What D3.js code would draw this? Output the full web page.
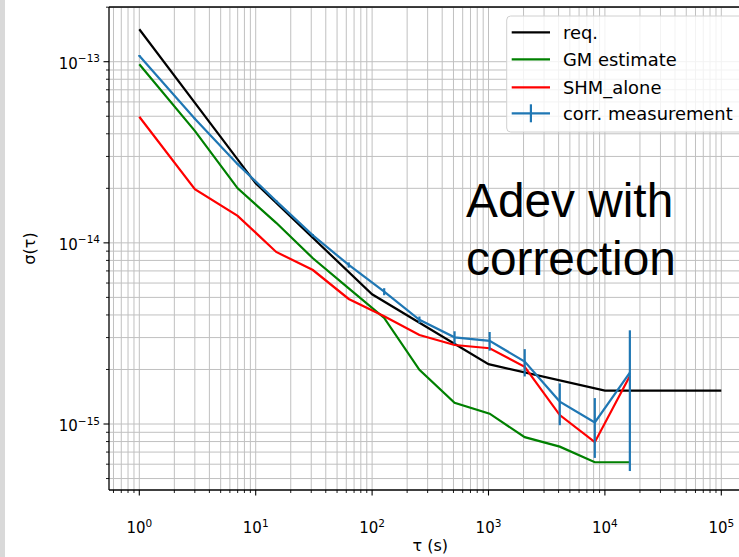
<!DOCTYPE html>
<html><head><meta charset="utf-8">
<script src="https://cdn.jsdelivr.net/npm/d3@7"></script>
<style>body{margin:0;background:#fff;} svg{display:block;}</style>
</head><body><svg id="c" width="739" height="557"></svg>
<script>
// ---- data ----
const reqTau = [1, 10, 100, 1000, 10000, 100000];
const reqVal = [1.51e-13, 2.13e-14, 5.2e-15, 2.14e-15, 1.53e-15, 1.53e-15];
const measTau = [1, 3, 7, 15, 31, 63, 127, 255, 511, 1023, 2047, 4095, 8191, 16383];
const gmVal = [9.68e-14, 4.15e-14, 2.0e-14, 1.29e-14, 8.22e-15, 5.61e-15, 3.85e-15, 1.99e-15, 1.31e-15, 1.14e-15, 8.46e-16, 7.50e-16, 6.15e-16, 6.15e-16];
const shmVal = [4.97e-14, 1.98e-14, 1.41e-14, 8.91e-15, 7.08e-15, 4.90e-15, 3.93e-15, 3.10e-15, 2.73e-15, 2.62e-15, 2.07e-15, 1.12e-15, 7.94e-16, 1.84e-15];
const corrVal = [1.08e-13, 4.85e-14, 2.72e-14, 1.70e-14, 1.10e-14, 7.55e-15, 5.38e-15, 3.76e-15, 3.01e-15, 2.88e-15, 2.21e-15, 1.33e-15, 1.02e-15, 1.92e-15];
const corrErr = [1.0e-15, 0.5e-15, 0.3e-15, 0.25e-15, 0.2e-15, 0.25e-15, 0.24e-15, 0.16e-15, 0.24e-15, 0.34e-15, 0.38e-15, 0.345e-15, 0.37e-15, 1.37e-15];
const xTickExp = [0, 1, 2, 3, 4, 5];
const yTickExp = [-15, -14, -13];
const legendLabels = ["req.", "GM estimate", "SHM_alone", "corr. measurement"];
const annotation = ["Adev with", "correction"];
const xLabel = "τ (s)";
const yLabel = "σ(τ)";

// ---- layout ----
const svg = d3.select("#c");
const L = 109, R = 751.6, T = 7, B = 490;
const x = d3.scaleLog().domain([Math.pow(10, -0.2603), Math.pow(10, 5.2603)]).range([L, R]);
const y = d3.scaleLog().domain([Math.pow(10, -15.3643), Math.pow(10, -12.698)]).range([B, T]);
const font = "DejaVu Sans, sans-serif";
const colors = {req: "#000000", gm: "#008000", shm: "#ff0000", corr: "#1f77b4"};

svg.append("rect").attr("x", 0).attr("y", 0).attr("width", 739).attr("height", 557).attr("fill", "#fff");
svg.append("rect").attr("x", 0).attr("y", 0).attr("width", 5).attr("height", 557).attr("fill", "#d9d9d9");

svg.append("clipPath").attr("id", "pc").append("rect")
  .attr("x", L).attr("y", T).attr("width", R - L).attr("height", B - T);

function logTicks(lo, hi) {
  const major = [], minor = [];
  for (let e = Math.floor(Math.log10(lo)) - 1; e <= Math.ceil(Math.log10(hi)); e++) {
    for (let m = 1; m <= 9; m++) {
      const v = m * Math.pow(10, e);
      if (v >= lo * 0.9999 && v <= hi * 1.0001) (m === 1 ? major : minor).push(v);
    }
  }
  return {major, minor};
}
const xt = logTicks(...x.domain());
const yt = logTicks(...y.domain());

const grid = svg.append("g").attr("clip-path", "url(#pc)");
[...xt.major, ...xt.minor].forEach(v => {
  grid.append("line").attr("x1", x(v)).attr("x2", x(v)).attr("y1", T).attr("y2", B)
    .attr("stroke", "#c0c0c0").attr("stroke-width", 1);
});
[...yt.major, ...yt.minor].forEach(v => {
  grid.append("line").attr("x1", L).attr("x2", R).attr("y1", y(v)).attr("y2", y(v))
    .attr("stroke", "#c0c0c0").attr("stroke-width", 1);
});

// data lines
const plot = svg.append("g").attr("clip-path", "url(#pc)");
const line = d3.line().x(d => x(d[0])).y(d => y(d[1]));
plot.append("path").datum(d3.zip(reqTau, reqVal)).attr("d", line)
  .attr("fill", "none").attr("stroke", colors.req).attr("stroke-width", 2.2);
plot.append("path").datum(d3.zip(measTau, gmVal)).attr("d", line)
  .attr("fill", "none").attr("stroke", colors.gm).attr("stroke-width", 2.2);
plot.append("path").datum(d3.zip(measTau, shmVal)).attr("d", line)
  .attr("fill", "none").attr("stroke", colors.shm).attr("stroke-width", 2.2);
plot.append("path").datum(d3.zip(measTau, corrVal)).attr("d", line)
  .attr("fill", "none").attr("stroke", colors.corr).attr("stroke-width", 2.2);
measTau.forEach((t, i) => {
  plot.append("line").attr("x1", x(t)).attr("x2", x(t))
    .attr("y1", y(corrVal[i] + corrErr[i])).attr("y2", y(Math.max(corrVal[i] - corrErr[i], 1e-17)))
    .attr("stroke", colors.corr).attr("stroke-width", 2.2);
});

// annotation
const ann = svg.append("text").attr("font-family", "Liberation Sans, Arial, sans-serif")
  .attr("font-size", 47.8).attr("fill", "#000");
annotation.forEach((s, i) => ann.append("tspan").attr("x", 466).attr("y", 216.7 + i * 58.3).text(s));

// spines
[[L, L, T, B], [L, R, B, B], [L, R, T, T], [R, R, T, B]].forEach(s =>
  svg.append("line").attr("x1", s[0]).attr("x2", s[1]).attr("y1", s[2]).attr("y2", s[3])
    .attr("stroke", "#000").attr("stroke-width", 1.3));

// ticks
xt.major.forEach(v => svg.append("line").attr("x1", x(v)).attr("x2", x(v)).attr("y1", B).attr("y2", B + 5.5).attr("stroke", "#000").attr("stroke-width", 1.1));
xt.minor.forEach(v => svg.append("line").attr("x1", x(v)).attr("x2", x(v)).attr("y1", B).attr("y2", B + 3).attr("stroke", "#000").attr("stroke-width", 0.9));
yt.major.forEach(v => svg.append("line").attr("x1", L).attr("x2", L - 5.5).attr("y1", y(v)).attr("y2", y(v)).attr("stroke", "#000").attr("stroke-width", 1.1));
yt.minor.forEach(v => svg.append("line").attr("x1", L).attr("x2", L - 3).attr("y1", y(v)).attr("y2", y(v)).attr("stroke", "#000").attr("stroke-width", 0.9));

// tick labels
function powLabel(g, e, px, py, anchor) {
  const t = g.append("text").attr("x", px).attr("y", py).attr("font-family", font)
    .attr("font-size", 15).attr("fill", "#000").attr("text-anchor", anchor);
  t.append("tspan").text("10");
  t.append("tspan").attr("font-size", 10.5).attr("dy", -6.5).text(String(e).replace("-", "\u2212"));
}
xTickExp.forEach(e => powLabel(svg, e, x(Math.pow(10, e)), 533, "middle"));
yTickExp.forEach(e => powLabel(svg, e, 100, y(Math.pow(10, e)) + 7, "end"));

// axis labels
svg.append("text").attr("x", (L + R) / 2).attr("y", 551).attr("text-anchor", "middle")
  .attr("font-family", font).attr("font-size", 16).text(xLabel);
svg.append("text").attr("transform", `translate(35,${(T + B) / 2}) rotate(-90)`).attr("text-anchor", "middle")
  .attr("font-family", font).attr("font-size", 16).text(yLabel);

// legend
const lg = svg.append("g");
lg.append("rect").attr("x", 506.7).attr("y", 16).attr("width", 300).attr("height", 116).attr("rx", 4)
  .attr("fill", "#fff").attr("fill-opacity", 0.8).attr("stroke", "#d0d0d0").attr("stroke-width", 1);
const lgColors = [colors.req, colors.gm, colors.shm, colors.corr];
const lgY = [32.3, 59.3, 87.3, 113.3];
legendLabels.forEach((s, i) => {
  lg.append("line").attr("x1", 511.7).attr("x2", 550).attr("y1", lgY[i]).attr("y2", lgY[i])
    .attr("stroke", lgColors[i]).attr("stroke-width", 2.2);
  if (i === 3) lg.append("line").attr("x1", 530.9).attr("x2", 530.9).attr("y1", lgY[i] - 9).attr("y2", lgY[i] + 9)
    .attr("stroke", lgColors[i]).attr("stroke-width", 2.2);
  lg.append("text").attr("x", 563).attr("y", lgY[i]).attr("dy", "0.36em").attr("font-family", font)
    .attr("font-size", 17.9).attr("fill", "#000").text(s);
});
</script></body></html>
